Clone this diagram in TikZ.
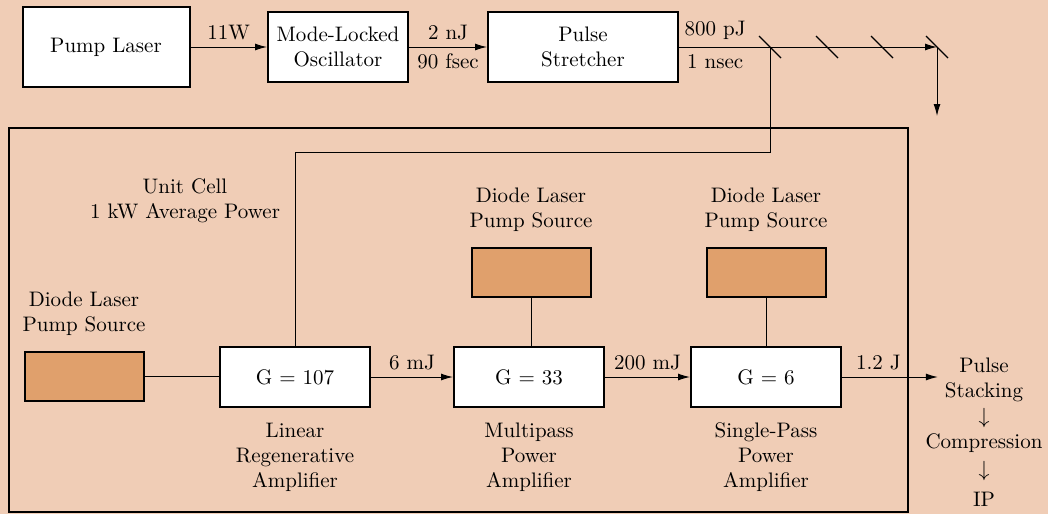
\documentclass[tikz,border=0pt]{standalone}
\usepackage{tikz}
\usepackage{xcolor}
\usetikzlibrary{arrows.meta, positioning}

\definecolor{fondo}{RGB}{240,205,182}
\definecolor{diodo}{RGB}{224,160,108}

\begin{document}
\begin{tikzpicture}[x=0.5pt, y=-0.5pt, font=\fontsize{10.5}{12.5}\selectfont,
    caja/.style={draw, line width=1pt, fill=white, inner sep=0pt, align=center},
    bomba/.style={draw, line width=1pt, fill=diodo, minimum width=59.5pt, minimum height=24.5pt},
    flecha/.style={-{Latex[length=6pt,width=3.5pt]}, line width=0.5pt},
    linea/.style={line width=0.5pt},
    espejo/.style={line width=0.6pt}]
        % Fondo y marco de la figura
        \useasboundingbox (0, 0) rectangle (1048, 514);
        \fill[fondo] (0, 0) rectangle (1048, 514);
        
        % Fila superior: bombeo, oscilador y estirador
        \node[caja, minimum width=83.5pt, minimum height=40pt] (pump) at (106, 47) {Pump Laser};
        \node[caja, minimum width=70pt, minimum height=35pt] (osc) at (338, 47) {Mode-Locked\\Oscillator};
        \node[caja, minimum width=95pt, minimum height=35pt] (stretch) at (583, 47) {Pulse\\Stretcher};
        \draw[flecha] (pump) -- (osc) node[midway, above] {11W};
        \draw[flecha] (osc) -- (stretch) node[midway, above] {2 nJ} node[midway, below] {90 fsec};
        
        % Espejos del haz
        \coordinate (m1) at (770, 47);
        \coordinate (m2) at (827, 47);
        \coordinate (m3) at (882, 47);
        \coordinate (m4) at (937, 47);
        \coordinate (salida) at (937, 116);
        \foreach \m in {m1, m2, m3, m4}
            \draw[espejo] ([shift={(-11,-11)}]\m) -- ([shift={(11,11)}]\m);
        \draw[flecha] (stretch) -- (m4) node[pos=0.14, above] {800 pJ} node[pos=0.14, below] {1 nsec};
        \draw[flecha] (m4) -- (salida);
        
        % Celda unidad
        \coordinate (celdaA) at (9, 128);
        \coordinate (celdaB) at (908, 512);
        \draw[line width=1.2pt] (celdaA) rectangle (celdaB);
        \node[align=center] (celda) at (185, 201) {Unit Cell\\1 kW Average Power};
        
        % Amplificadores
        \node[caja, minimum width=75pt, minimum height=30pt] (g1) at (295, 377) {G = 107};
        \node[caja, minimum width=75pt, minimum height=30pt] (g2) at (529, 377) {G = 33};
        \node[caja, minimum width=75pt, minimum height=30pt] (g3) at (766, 377) {G = 6};
        \node[align=center, below=4pt of g1] (t1) {Linear\\Regenerative\\Amplifier};
        \node[align=center, below=4pt of g2] (t2) {Multipass\\Power\\Amplifier};
        \node[align=center, below=4pt of g3] (t3) {Single-Pass\\Power\\Amplifier};
        
        % Fuentes de bombeo de diodos
        \node[bomba] (d1) at (84, 376) {};
        \node[bomba] (d2) at (531, 272) {};
        \node[bomba] (d3) at (766, 272) {};
        \node[align=center, above=4pt of d1] (l1) {Diode Laser\\Pump Source};
        \node[align=center, above=4pt of d2] (l2) {Diode Laser\\Pump Source};
        \node[align=center, above=4pt of d3] (l3) {Diode Laser\\Pump Source};
        \draw[linea] (d1) -- (d1 -| g1.west);
        \draw[linea] (d2) -- (g2.north -| d2);
        \draw[linea] (d3) -- (g3);
        
        % Inyección del pulso al amplificador regenerativo
        \coordinate (giro) at (770, 152);
        \draw[linea] (m1) -- (giro) -| (g1.north);
        
        % Cadena de amplificación
        \draw[flecha] (g1) -- (g2) node[midway, above] {6 mJ};
        \draw[flecha] (g2) -- (g3) node[midway, above] {200 mJ};
        
        % Salida final
        \node[align=center] (stack) at (984, 380) {Pulse\\Stacking};
        \node (ar1) at (984, 418) {$\downarrow$};
        \node (comp) at (984, 443) {Compression};
        \node (ar2) at (984, 471) {$\downarrow$};
        \node (ip) at (984, 499) {IP};
        \draw[flecha] (g3) -- (g3 -| stack.west) node[pos=0.38, above] {1.2 J};
        
    \end{tikzpicture}
\end{document}
